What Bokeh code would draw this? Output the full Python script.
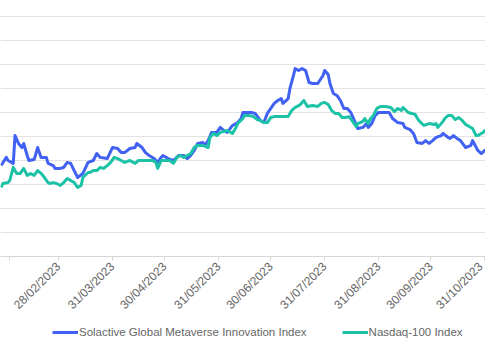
import numpy as np
import pandas as pd
from bokeh.plotting import figure
from bokeh.layouts import column
from bokeh.models import (FixedTicker, DatetimeTickFormatter, Legend, LegendItem,
                          Grid, Range1d, ColumnDataSource)
from bokeh.embed import file_html
from bokeh.resources import INLINE

# ---- data (day of year 2023, index level) ----
solactive_day = [26, 29, 30, 33, 34, 36, 38, 39, 41, 42, 45, 47, 49, 52, 53, 56, 57, 60, 62, 64,
                 66, 68, 70, 73, 76, 79, 81, 83, 87, 90, 93, 95, 97, 100, 103, 104, 107, 109, 111, 114,
                 116, 118, 119, 122, 125, 128, 131, 133, 135, 137, 139, 142, 143, 145, 147, 150, 152, 154, 156, 159,
                 162, 164, 165, 168, 170, 172, 175, 177, 179, 181, 183, 185, 187, 188, 191, 192, 194, 195, 197, 199,
                 201, 203, 205, 207, 208, 211, 212, 214, 215, 217, 219, 221, 223, 225, 227, 229, 231, 234, 236, 237,
                 239, 241, 243, 246, 249, 251, 254, 257, 258, 261, 263, 265, 268, 270, 272, 274, 276, 279, 280, 283,
                 284, 286, 288, 290, 293, 296, 297, 300, 302, 304, 305]
solactive_val = [97.9, 101.3, 100.0, 98.8, 110.4, 107.1, 105.4, 107.1, 102.1, 100.0, 100.4, 105.4, 101.3, 101.3, 98.8, 97.9, 96.7, 96.7, 97.1, 99.2,
                 98.8, 95.8, 92.9, 94.6, 99.2, 100.0, 102.9, 101.3, 100.8, 105.4, 105.0, 103.3, 103.3, 105.0, 105.4, 107.1, 105.4, 103.3, 102.1, 100.8,
                 99.2, 101.3, 102.1, 100.8, 100.0, 102.1, 102.1, 100.8, 102.1, 104.2, 107.1, 107.5, 106.3, 108.3, 111.7, 111.7, 113.8, 112.5, 111.7, 114.6,
                 115.8, 117.5, 120.0, 120.0, 120.0, 119.6, 116.7, 115.8, 119.6, 121.7, 123.8, 125.0, 125.8, 123.8, 125.8, 130.0, 135.4, 138.3, 137.5, 138.3,
                 137.5, 132.5, 132.1, 132.1, 132.1, 135.4, 137.5, 135.8, 132.1, 127.9, 127.1, 125.0, 121.7, 121.7, 120.0, 116.7, 113.3, 113.8, 115.4, 113.8,
                 115.4, 118.8, 120.0, 120.0, 120.0, 117.5, 115.8, 115.4, 113.8, 112.9, 111.3, 107.5, 107.1, 108.3, 107.1, 108.3, 109.6, 110.4, 111.3, 109.6,
                 109.2, 110.4, 109.2, 108.3, 105.4, 106.3, 108.3, 104.2, 102.9, 104.2, 104.6]

nasdaq_day = [26, 27, 30, 31, 33, 35, 37, 39, 41, 43, 45, 47, 49, 50, 53, 54, 56, 58, 60, 62,
              64, 66, 68, 70, 72, 73, 76, 77, 79, 81, 83, 85, 87, 89, 91, 93, 95, 97, 100, 103,
              105, 108, 111, 113, 115, 116, 118, 120, 123, 125, 127, 129, 131, 133, 135, 137, 139, 142, 145, 146,
              148, 150, 152, 156, 159, 161, 162, 165, 166, 168, 171, 173, 175, 177, 179, 181, 183, 185, 188, 191,
              193, 195, 198, 200, 202, 205, 208, 210, 212, 214, 216, 218, 220, 222, 224, 226, 228, 230, 231, 234,
              235, 237, 238, 240, 242, 244, 247, 250, 252, 254, 256, 257, 260, 262, 264, 266, 269, 272, 275, 276,
              277, 280, 281, 283, 285, 287, 289, 291, 293, 295, 297, 299, 300, 303, 304, 305]
nasdaq_val = [88.8, 90.4, 90.8, 91.7, 97.1, 94.6, 94.6, 96.7, 93.8, 94.6, 93.8, 95.8, 94.6, 93.8, 90.8, 90.4, 90.8, 90.4, 89.6, 90.8,
              92.5, 91.7, 90.8, 88.8, 89.6, 92.9, 95.0, 95.0, 95.8, 95.8, 97.1, 96.7, 97.9, 99.2, 101.3, 100.8, 100.0, 99.2, 100.0, 98.8,
              100.0, 100.0, 100.0, 100.0, 99.2, 96.7, 100.0, 100.0, 100.0, 98.8, 101.3, 102.1, 101.3, 102.1, 102.9, 105.4, 106.3, 106.3, 105.4, 109.6,
              111.3, 110.4, 111.7, 112.5, 111.3, 113.8, 115.4, 117.5, 118.8, 118.8, 118.3, 117.1, 116.7, 115.8, 115.8, 117.9, 118.3, 118.3, 118.3, 118.3,
              120.8, 122.1, 123.3, 125.0, 122.5, 122.9, 122.5, 123.8, 124.2, 123.3, 120.8, 119.6, 119.6, 117.9, 117.9, 118.3, 116.3, 114.2, 115.4, 116.3,
              117.5, 115.4, 117.1, 118.8, 121.7, 122.5, 122.5, 122.1, 120.4, 121.7, 120.8, 122.1, 120.0, 119.6, 119.2, 116.7, 114.6, 115.4, 115.0, 115.4,
              113.8, 116.3, 117.5, 118.8, 118.8, 117.1, 117.9, 116.7, 115.0, 114.2, 113.3, 110.4, 110.4, 111.7, 112.5, 112.9]

series_names = ["Solactive Global Metaverse Innovation Index", "Nasdaq-100 Index"]
series_colors = ["#4161F3", "#1BC2A6"]
tick_dates = ["2023-01-31", "2023-02-28", "2023-03-31", "2023-04-30", "2023-05-31",
              "2023-06-30", "2023-07-31", "2023-08-31", "2023-09-30", "2023-10-31"]
grid_values = [70, 80, 90, 100, 110, 120, 130, 140, 150, 160]


def to_dates(days):
    return pd.Timestamp("2023-01-01") + pd.to_timedelta(np.array(days) - 1, unit="D")


def to_ms(ts):
    return pd.Timestamp(ts).value / 1e6


base = pd.Timestamp("2023-01-01")
x_start = to_ms(base + pd.Timedelta(days=24.66))
x_end = to_ms(base + pd.Timedelta(days=303.4))

# ---- main chart ----
p = figure(frame_width=485, frame_height=256, x_axis_type="datetime", y_axis_location=None,
           x_range=Range1d(x_start, x_end), y_range=Range1d(60, 166.67),
           output_backend="svg", toolbar_location=None,
           min_border_left=0, min_border_right=0, min_border_top=0, min_border_bottom=62)
p.outline_line_color = None
p.xgrid.visible = False

p.add_layout(Grid(dimension=1, ticker=FixedTicker(ticks=grid_values),
                  grid_line_color="#e3e3e3", grid_line_width=1))

src1 = ColumnDataSource(dict(x=to_dates(solactive_day), y=solactive_val))
src2 = ColumnDataSource(dict(x=to_dates(nasdaq_day), y=nasdaq_val))
p.line("x", "y", source=src1, line_color=series_colors[0], line_width=3, line_join="round")
p.line("x", "y", source=src2, line_color=series_colors[1], line_width=3, line_join="round")

tick_ms = [to_ms(d) for d in tick_dates]
ax = p.xaxis[0]
ax.ticker = FixedTicker(ticks=tick_ms)
fmt = "%d/%m/%Y"
ax.formatter = DatetimeTickFormatter(milliseconds=fmt, seconds=fmt, minsec=fmt, minutes=fmt,
                                     hourmin=fmt, hours=fmt, days=fmt, months=fmt, years=fmt)
# the first date label falls off the left edge of the visible chart
ax.major_label_overrides = {tick_ms[0]: ""}
ax.major_label_orientation = np.pi / 4
ax.major_label_text_font = "Liberation Sans"
ax.major_label_text_font_size = "12px"
ax.major_label_text_color = "#666666"
ax.major_label_standoff = 4
ax.axis_line_color = "#d6d6d6"
ax.major_tick_line_color = "#d6d6d6"
ax.major_tick_in = 0
ax.major_tick_out = 4
ax.minor_tick_line_color = None

# ---- legend strip (key lines lie outside its view, only the legend shows) ----
lg = figure(width=485, height=26, output_backend="svg", toolbar_location=None,
            x_range=Range1d(0, 1), y_range=Range1d(0, 1),
            x_axis_location=None, y_axis_location=None,
            min_border_left=0, min_border_right=0, min_border_top=0, min_border_bottom=0)
lg.outline_line_color = None
lg.grid.visible = False
k1 = lg.line(x=[-3, -2], y=[-3, -2], line_color=series_colors[0], line_width=3)
k2 = lg.line(x=[-3, -2], y=[-3, -2], line_color=series_colors[1], line_width=3)
legend = Legend(items=[LegendItem(label=series_names[0], renderers=[k1]),
                       LegendItem(label=series_names[1], renderers=[k2])],
                orientation="horizontal", location=(52, 3),
                label_text_font="Liberation Sans", label_text_font_size="11.5px",
                label_text_color="#666666", glyph_width=26, glyph_height=20,
                label_height=20, label_standoff=1, spacing=35, padding=0, margin=0,
                border_line_color=None, background_fill_alpha=0)
lg.add_layout(legend)

layout = column(p, lg, spacing=0)
open("out.html", "w").write(file_html(layout, INLINE))
